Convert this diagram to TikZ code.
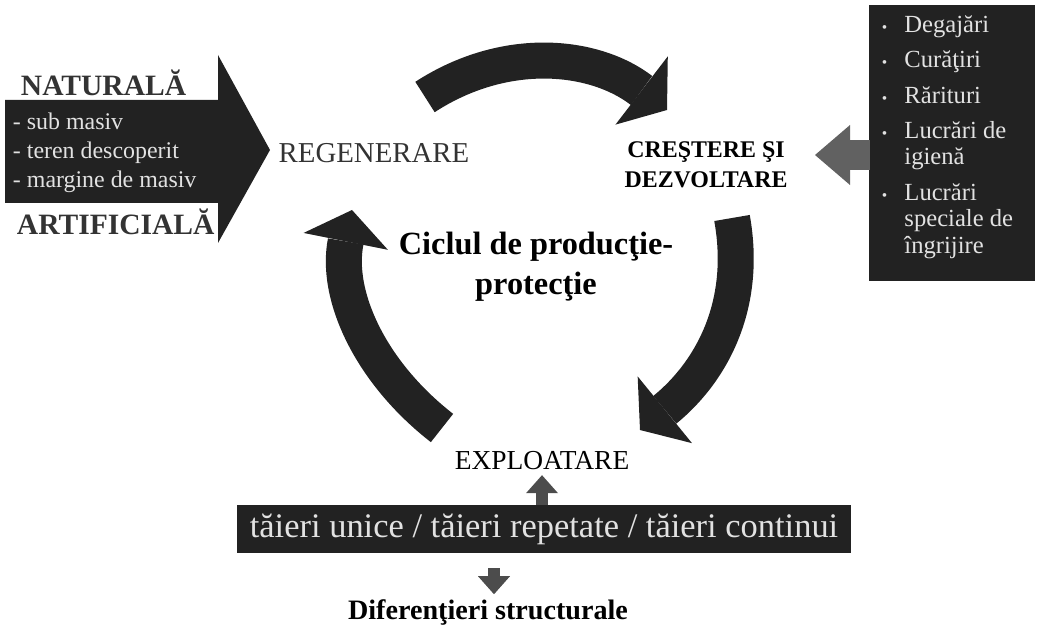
\documentclass[tikz,border=0pt]{standalone}
\usepackage{fontspec}
\setmainfont{Liberation Serif}
\usetikzlibrary{arrows.meta, positioning}
\definecolor{ink}{HTML}{222222}
\definecolor{paleink}{HTML}{E2E2E2}
\newcommand{\carebullet}{\makebox[16pt][l]{\fontsize{11}{11}\selectfont\textbullet}}
\newcommand{\careindent}{\hspace*{16pt}}

\begin{document}
\begin{tikzpicture}[x=0.025cm, y=0.025cm,
    phasearrow/.style={draw=ink, line width=0.9cm,
      -{Triangle[length=0.8cm, width=2.15cm, line width=0pt]}},
    sidearrow/.style={draw=black!62, line width=0.75cm,
      -{Triangle[length=0.875cm, width=1.5cm, line width=0pt]}},
    smallarrow/.style={draw=black!70, line width=0.3cm,
      -{Triangle[length=0.45cm, width=0.8cm, line width=0pt]}},
    phase/.style={font=\fontsize{20.5}{24}\selectfont, text=black!80},
    darkbox/.style={fill=ink, inner sep=0pt}]
  \useasboundingbox (0,0) rectangle (1037,633);

  \fill[ink] (5,533) -- (218,533) -- (218,578) -- (270,483) -- (218,390)
    -- (218,430) -- (5,430) -- cycle;
  \node[anchor=west, font=\fontsize{21}{24}\selectfont\bfseries, text=black!80]
    (natural) at (16,550) {NATURALĂ};
  \node[anchor=west, font=\fontsize{21}{24}\selectfont\bfseries, text=black!80]
    (artificial) at (12,411) {ARTIFICIALĂ};
  \node[anchor=west, align=left, text=paleink, font=\fontsize{17}{20.5}\selectfont]
    (naturallist) at (8,480) {- sub masiv\\- teren descoperit\\- margine de masiv};

  \node[phase] (regen) at (374,480) {REGENERARE};
  \node[phase, font=\fontsize{17}{21}\selectfont\bfseries, text=black, align=center]
    (growth) at (706,468) {CREŞTERE ŞI\\DEZVOLTARE};
  \node[font=\fontsize{23}{28.5}\selectfont\bfseries, align=center]
    (title) at (536,366) {Ciclul de producţie-\\protecţie};
  \node[phase, font=\fontsize{19.5}{24}\selectfont, text=black] (harvest) at (542,172) {EXPLOATARE};

  \node[darkbox, minimum width=4.125cm, minimum height=6.875cm] (care) at (952,490) {};
  \node[anchor=north west, align=left, text=paleink, font=\fontsize{17.5}{19}\selectfont]
    (caretext) at (877,622) {\carebullet Degajări\\[6pt]
      \carebullet Curăţiri\\[6pt]
      \carebullet Rărituri\\[6pt]
      \carebullet Lucrări de\\
      \careindent igienă\\[6pt]
      \carebullet Lucrări\\
      \careindent speciale de\\
      \careindent îngrijire};

  \node[darkbox, minimum width=15.35cm, minimum height=1.2cm, text=paleink,
    font=\fontsize{24.5}{28}\selectfont] (cuts) at (544,104)
    {tăieri unice / tăieri repetate / tăieri continui};
  \node[font=\fontsize{20}{24}\selectfont\bfseries] (result) at (488,21) {Diferenţieri structurale};

  \draw[phasearrow] (425,536) .. controls (505,588) and (594,579) .. (667,523);
  \draw[phasearrow] (732,415) .. controls (748,326) and (710,260) .. (640,203);
  \draw[phasearrow] (442,205) .. controls (370,261) and (335,338) .. (352,423);

  \coordinate (sidein) at (870,478);
  \coordinate (sidetip) at (815,478);
  \draw[sidearrow] (sidein) -- (sidetip);
  \draw[smallarrow] (cuts.north -| harvest) -- (harvest.south);
  \draw[smallarrow, shorten <=0.375cm] ([xshift=0.15cm]cuts.south -| result) -- ([xshift=0.15cm]result.north);
\end{tikzpicture}
\end{document}
